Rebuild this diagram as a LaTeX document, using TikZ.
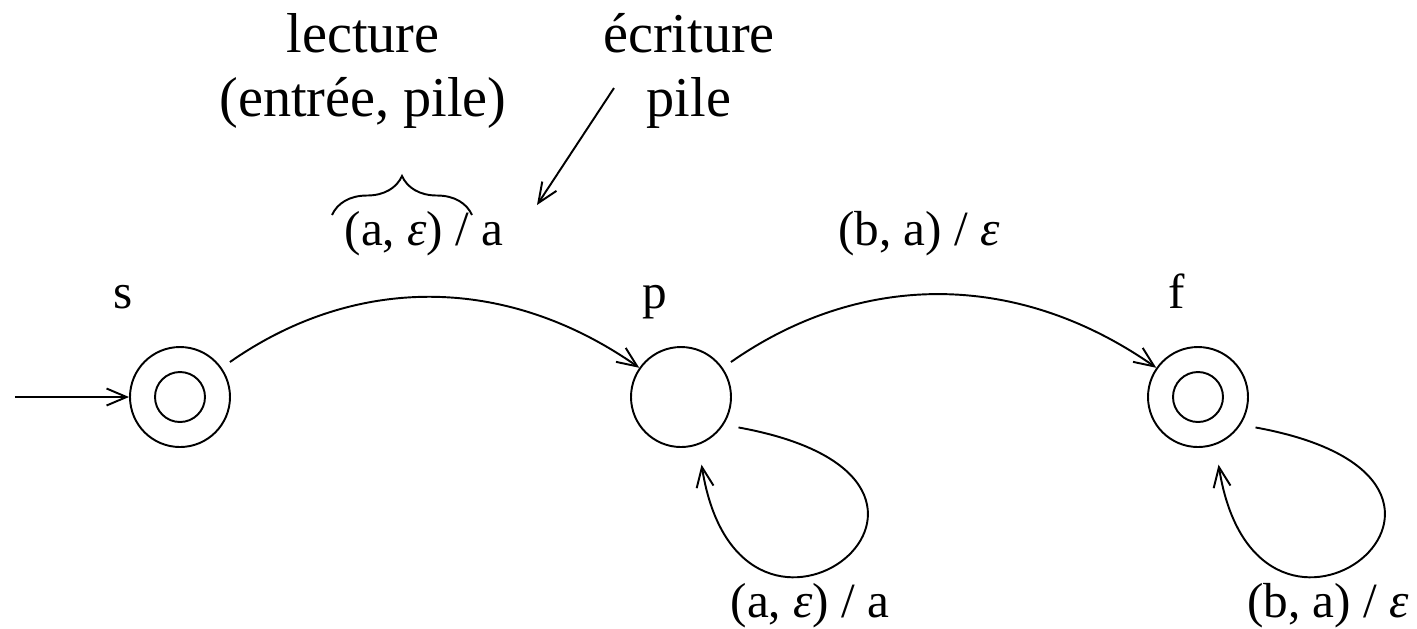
\documentclass[tikz,border=0pt]{standalone}
\usepackage{fontspec}
\setmainfont{Liberation Serif}
\usetikzlibrary{arrows.meta,positioning,calc,decorations.pathreplacing}

\begin{document}
\begin{tikzpicture}[
    state/.style={circle, draw, minimum size=1cm, inner sep=0pt},
    accepting/.style={state, path picture={\draw (path picture bounding box.center) circle (0.25cm);}},
    lbl/.style={font=\fontsize{14}{17}\selectfont, anchor=base, inner sep=0pt},
    note/.style={font=\fontsize{16}{18}\selectfont, align=center, inner sep=0pt},
    arrow/.style={-{Straight Barb[length=2mm,width=1.7mm]}},
    line width=0.55pt
]

\useasboundingbox (0,0) rectangle (14.17,-6.28);

% States
\node[accepting] (s) at (1.80,-3.97) {};
\node[state] (p) at (6.81,-3.97) {};
\node[accepting] (f) at (11.98,-3.97) {};

% State names
\node[lbl] (sname) at (1.23,-3.08) {s};
\node[lbl] (pname) at (6.55,-3.08) {p};
\node[lbl] (fname) at (11.77,-3.08) {f};

% Initial arrow
\coordinate (init) at (0.15,-3.97);
\draw[arrow] (init) -- (s);

% Transitions
\draw[arrow, shorten <=0.1cm] (s) to[out=35, in=145, looseness=1] (p);
\draw[arrow, shorten <=0.1cm] (p) to[out=35, in=145, looseness=1] (f);
\draw[arrow, shorten <=0.15cm, shorten >=0.2cm] (p.-33) .. controls +(3.08,-0.56) and +(0.42,-2.66) .. (p.-70);
\draw[arrow, shorten <=0.15cm, shorten >=0.2cm] (f.-33) .. controls +(3.08,-0.56) and +(0.42,-2.66) .. (f.-70);

% Transition labels
\node[lbl] (lsp) at (4.24,-2.45) {(a, \textit{ε}) / a};
\node[lbl] (lpf) at (9.19,-2.45) {(b, a) / \textit{ε}};
\node[lbl] (lpp) at (8.10,-6.17) {(a, \textit{ε}) / a};
\node[lbl] (lff) at (13.28,-6.17) {(b, a) / \textit{ε}};

% Annotations
\node[note, anchor=base] (lect) at (3.63,-1.16) {lecture\\(entrée, pile)};
\node[note, anchor=base] (ecr) at (6.89,-1.16) {écriture\\pile};

\coordinate (bl) at (3.32,-2.15);
\coordinate (br) at (4.72,-2.15);
\draw[decorate, decoration={brace, amplitude=0.39cm}] (bl) -- (br);

\coordinate (ecr-from) at (6.14,-0.88);
\coordinate (ecr-to) at (5.37,-2.05);
\draw[arrow] (ecr-from) -- (ecr-to);

\end{tikzpicture}
\end{document}
